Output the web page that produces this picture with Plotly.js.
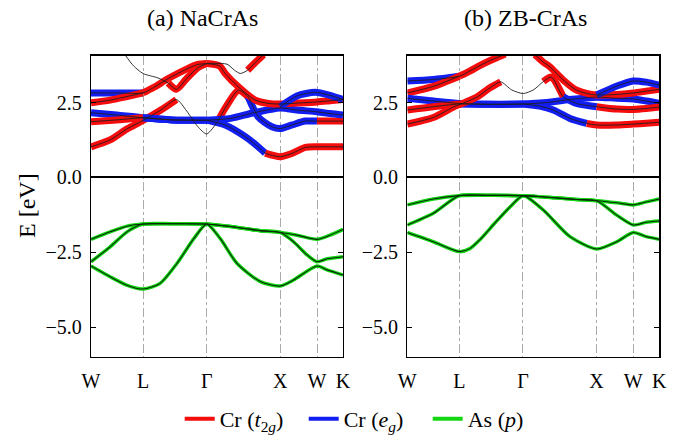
<!DOCTYPE html>
<html><head><meta charset="utf-8">
<script src="https://cdn.plot.ly/plotly-3.0.1.min.js"></script>
<style>html,body{margin:0;padding:0;background:#fff}#chart{width:690px;height:442px}</style>
</head><body><div id="chart"></div>
<script>
// High-symmetry path positions (2pi/a units) and labels
const KPOS = [0, 0.7071, 1.5731, 2.5731, 3.0731, 3.4267];
const KLAB = ['W', 'L', 'Γ', 'X', 'W', 'K'];

// ---------- (a) NaCrAs : conduction bands (k, E, character of each segment) ----------
const NA1_K = [0, 0.26, 0.49, 0.707, 0.95, 1.161, 1.30, 1.45, 1.573, 1.733, 1.824, 2.005, 2.137, 2.274, 2.46, 2.573, 2.733, 2.914, 3.073, 3.25, 3.427];
const NA1_E = [1.02, 1.25, 1.62, 1.90, 2.25, 2.60, 2.22, 1.70, 1.45, 1.91, 2.31, 2.91, 2.69, 2.02, 1.69, 1.63, 1.75, 1.88, 1.88, 1.88, 1.88];
const NA1_C = 'tttttnnnnttteeeeeettt';
const NA2_K = [0, 0.35, 0.707, 1.1, 1.573];
const NA2_E = [2.16, 2.08, 1.99, 1.92, 1.91];
const NA2_C = 'eeee';
const NA3_K = [0, 0.35, 0.707, 1.1, 1.573];
const NA3_E = [1.86, 1.92, 1.99, 1.92, 1.91];
const NA3_C = 'ttee';
const NA4_K = [1.573, 1.9, 2.2, 2.573, 2.8, 3.073, 3.25, 3.427];
const NA4_E = [1.91, 1.97, 2.15, 2.32, 2.25, 2.19, 2.13, 2.08];
const NA4_C = 'eeeeeee';
const NA5_K = [1.573, 1.824, 2.097, 2.274, 2.369, 2.573, 2.733, 2.914, 3.073, 3.25, 3.427];
const NA5_E = [1.91, 1.75, 1.36, 1.02, 0.81, 0.69, 0.80, 1.00, 1.02, 1.02, 1.02];
const NA5_C = 'eeeettttttt';
const NA6_K = [0, 0.35, 0.707, 0.85, 1.05, 1.32, 1.45, 1.573];
const NA6_E = [2.82, 2.82, 2.82, 3.00, 3.30, 3.64, 3.77, 3.80];
const NA6_C = 'eettttt';
const NA7_K = [0, 0.26, 0.49, 0.707];
const NA7_E = [2.49, 2.58, 2.70, 2.82];
const NA7_C = 'ttt';
const NA8_K = [0.46, 0.58, 0.707, 0.912, 1.05, 1.161, 1.3, 1.45, 1.573];
const NA8_E = [4.10, 3.72, 3.47, 3.32, 3.15, 2.94, 3.30, 3.66, 3.80];
const NA8_C = 'nnnnttttt';
const NA9_K = [1.573, 1.75, 1.824, 2.005, 2.233, 2.414, 2.573, 2.8, 3.073, 3.25, 3.427];
const NA9_E = [3.80, 3.72, 3.47, 3.02, 2.58, 2.47, 2.45, 2.48, 2.52, 2.56, 2.60];
const NA9_C = 'tttttttttt';
const NA10_K = [1.573, 1.85, 1.95, 2.03, 2.13, 2.24, 2.346];
const NA10_E = [3.80, 3.78, 3.58, 3.47, 3.58, 3.85, 4.10];
const NA10_C = 'nnnnttt';
const NA11_K = [2.573, 2.8, 3.05, 3.25, 3.427];
const NA11_E = [2.36, 2.72, 2.84, 2.74, 2.60];
const NA11_C = 'eeee';
// (a) NaCrAs : valence bands (As p)
const NAV1_K = [0, 0.26, 0.49, 0.707, 1.1, 1.573, 2.07, 2.3, 2.573, 2.8, 3.073, 3.25, 3.427];
const NAV1_E = [-2.07, -1.82, -1.63, -1.56, -1.55, -1.56, -1.70, -1.78, -1.84, -1.93, -2.07, -1.93, -1.74];
const NAV2_K = [0, 0.26, 0.49, 0.707, 1.1, 1.573, 2.07, 2.3, 2.573, 2.754, 2.937, 3.073, 3.21, 3.427];
const NAV2_E = [-2.82, -2.32, -1.82, -1.56, -1.55, -1.56, -1.70, -1.78, -1.84, -2.15, -2.59, -2.82, -2.72, -2.65];
const NAV3_K = [0, 0.26, 0.486, 0.707, 0.94, 1.17, 1.40, 1.573, 1.756, 1.984, 2.301, 2.573, 2.754, 3.073, 3.21, 3.427];
const NAV3_E = [-2.96, -3.32, -3.60, -3.73, -3.54, -2.87, -2.04, -1.56, -2.04, -2.87, -3.48, -3.63, -3.43, -2.96, -3.09, -3.26];

// ---------- (b) ZB-CrAs : conduction bands ----------
const ZB1_K = [0, 0.354, 0.707, 0.85, 0.998, 1.15, 1.27, 1.33];
const ZB1_E = [3.22, 3.27, 3.38, 3.55, 3.75, 3.93, 4.05, 4.12];
const ZB1_C = 'eettttt';
const ZB2_K = [0, 0.354, 0.707];
const ZB2_E = [2.82, 3.04, 3.38];
const ZB2_C = 'tt';
const ZB3_K = [0, 0.354, 0.707, 1.1, 1.577, 1.9, 2.2, 2.575, 2.85, 3.073, 3.25, 3.427];
const ZB3_E = [2.64, 2.55, 2.47, 2.44, 2.45, 2.50, 2.60, 2.68, 2.64, 2.62, 2.55, 2.47];
const ZB3_C = 'eeeeeeeeeee';
const ZB4_K = [0, 0.354, 0.707, 1.1, 1.577];
const ZB4_E = [2.25, 2.36, 2.45, 2.44, 2.45];
const ZB4_C = 'ttee';
const ZB5_K = [0, 0.354, 0.635, 0.80, 0.952, 1.13, 1.27, 1.42, 1.577, 1.72, 1.85, 1.96, 2.12, 2.30, 2.575, 2.85, 3.073, 3.25, 3.427];
const ZB5_E = [1.78, 2.00, 2.36, 2.52, 2.69, 3.00, 3.19, 2.92, 2.80, 2.93, 3.20, 3.35, 2.69, 2.47, 2.36, 2.28, 2.27, 2.30, 2.35];
const ZB5_C = 'ttttttnnnntteetttt';
const ZB6_K = [1.736, 1.849, 1.94, 2.121, 2.303, 2.484, 2.575, 2.85, 3.073, 3.25, 3.427];
const ZB6_E = [4.10, 3.85, 3.69, 3.25, 2.91, 2.78, 2.75, 2.77, 2.82, 2.88, 2.94];
const ZB6_C = 'tttttttttt';
const ZB7_K = [1.577, 1.80, 1.985, 2.212, 2.44, 2.575, 2.85, 3.073, 3.25, 3.427];
const ZB7_E = [2.45, 2.38, 2.25, 1.97, 1.80, 1.75, 1.75, 1.78, 1.81, 1.84];
const ZB7_C = 'eeeettttt';
const ZB8_K = [2.575, 2.85, 3.073, 3.25, 3.427];
const ZB8_E = [2.75, 3.05, 3.22, 3.18, 3.08];
const ZB8_C = 'eeee';
// (b) ZB-CrAs : valence bands
const ZBV1_K = [0, 0.354, 0.707, 1.1, 1.577, 2.0, 2.3, 2.575, 2.85, 3.073, 3.25, 3.427];
const ZBV1_E = [-0.92, -0.72, -0.61, -0.60, -0.61, -0.68, -0.74, -0.78, -0.85, -0.92, -0.82, -0.72];
const ZBV2_K = [0, 0.354, 0.707, 1.1, 1.577, 2.0, 2.3, 2.575, 2.847, 3.073, 3.25, 3.427];
const ZBV2_E = [-1.59, -1.20, -0.61, -0.60, -0.61, -0.68, -0.74, -0.78, -1.26, -1.59, -1.50, -1.46];
const ZBV3_K = [0, 0.354, 0.707, 0.85, 1.0, 1.2, 1.4, 1.577, 1.849, 2.212, 2.575, 2.847, 3.073, 3.25, 3.427];
const ZBV3_E = [-1.84, -2.15, -2.48, -2.38, -2.05, -1.50, -0.98, -0.61, -1.09, -1.98, -2.39, -2.15, -1.84, -1.98, -2.07];

const LEGEND_NAMES = ['Cr (<i>t</i><sub>2<i>g</i></sub>)', 'Cr (<i>e</i><sub><i>g</i></sub>)', 'As (<i>p</i>)'];
const TITLES = ['(a) NaCrAs', '(b) ZB-CrAs'];

// ---------- styling ----------
const COL = { t: 'rgb(245,12,12)', e: 'rgb(18,30,240)', p: 'rgb(20,215,20)' };
const FAT = 7;
const FONT = 'Liberation Serif';

const naCond = [[NA1_K,NA1_E,NA1_C],[NA2_K,NA2_E,NA2_C],[NA3_K,NA3_E,NA3_C],[NA4_K,NA4_E,NA4_C],[NA5_K,NA5_E,NA5_C],[NA6_K,NA6_E,NA6_C],[NA7_K,NA7_E,NA7_C],[NA8_K,NA8_E,NA8_C],[NA9_K,NA9_E,NA9_C],[NA10_K,NA10_E,NA10_C],[NA11_K,NA11_E,NA11_C]];
const naVal = [[NAV1_K,NAV1_E],[NAV2_K,NAV2_E],[NAV3_K,NAV3_E]];
const zbCond = [[ZB1_K,ZB1_E,ZB1_C],[ZB2_K,ZB2_E,ZB2_C],[ZB3_K,ZB3_E,ZB3_C],[ZB4_K,ZB4_E,ZB4_C],[ZB5_K,ZB5_E,ZB5_C],[ZB6_K,ZB6_E,ZB6_C],[ZB7_K,ZB7_E,ZB7_C],[ZB8_K,ZB8_E,ZB8_C]];
const zbVal = [[ZBV1_K,ZBV1_E],[ZBV2_K,ZBV2_E],[ZBV3_K,ZBV3_E]];

const traces = [];
function line(k, e, color, width, xa, ya) {
  return { x: k, y: e, mode: 'lines', xaxis: xa, yaxis: ya, showlegend: false, hoverinfo: 'skip',
           line: { color: color, width: width, shape: 'spline', smoothing: 0.7 } };
}
function addPanel(cond, val, xa, ya) {
  for (const [k, e, c] of cond) {
    let i = 0;
    while (i < c.length) {
      const ch = c[i]; let j = i;
      while (j < c.length && c[j] === ch) j++;
      if (ch !== 'n') traces.push(line(k.slice(i, j + 1), e.slice(i, j + 1), COL[ch], FAT, xa, ya));
      i = j;
    }
  }
  for (const [k, e] of val) traces.push(line(k, e, COL.p, 3.5, xa, ya));
  for (const [k, e] of cond) traces.push(line(k, e, 'rgb(30,30,30)', 0.9, xa, ya));
  for (const [k, e] of val) traces.push(line(k, e, 'rgb(10,40,10)', 1.1, xa, ya));
}
addPanel(naCond, naVal, 'x', 'y');
addPanel(zbCond, zbVal, 'x2', 'y2');

['t', 'e', 'p'].forEach((ch, i) => traces.push({
  x: [null], y: [null], mode: 'lines', name: LEGEND_NAMES[i], showlegend: true,
  line: { color: COL[ch], width: 4 }, xaxis: 'x', yaxis: 'y'
}));

function xax(dom, anchor) {
  return { domain: dom, anchor: anchor, range: [0, KPOS[KPOS.length - 1]], tickvals: KPOS, ticktext: KLAB,
    ticks: '', showgrid: true, griddash: 'dashdot', gridcolor: 'rgb(150,150,150)', gridwidth: 0.8,
    showline: true, mirror: true, linecolor: 'black', linewidth: 1.3, zeroline: false,
    ticklabelstandoff: 6, tickfont: { family: FONT, size: 20, color: 'black' } };
}
function yax(anchor) {
  return { domain: [0.1923, 0.8744], anchor: anchor, range: [-6.0, 4.07], tickvals: [-5, -2.5, 0, 2.5],
    tickformat: '.1f', ticks: 'inside', ticklen: 5, tickcolor: 'black', showgrid: false,
    showline: true, mirror: 'ticks', linecolor: 'black', linewidth: 1.3,
    zeroline: true, zerolinecolor: 'black', zerolinewidth: 2,
    ticklabelstandoff: 4, tickfont: { family: FONT, size: 20, color: 'black' } };
}

const layout = {
  width: 690, height: 442, margin: { l: 0, r: 0, t: 0, b: 0 },
  font: { family: FONT, size: 20, color: 'black' },
  paper_bgcolor: 'white', plot_bgcolor: 'white',
  xaxis: xax([0.1319, 0.4971], 'y'), yaxis: yax('x'),
  xaxis2: xax([0.5903, 0.9555], 'y2'), yaxis2: yax('x2'),
  showlegend: true,
  legend: { orientation: 'h', x: 0.53, xanchor: 'center', y: 0.052, yanchor: 'middle',
            entrywidth: 79, entrywidthmode: 'pixels',
            font: { family: FONT, size: 22, color: 'black' }, bgcolor: 'rgba(0,0,0,0)' },
  annotations: [
    { text: TITLES[0], xref: 'paper', yref: 'paper', x: 0.2935, y: 0.960, xanchor: 'center', yanchor: 'middle', showarrow: false, font: { family: FONT, size: 24, color: 'black' } },
    { text: TITLES[1], xref: 'paper', yref: 'paper', x: 0.7615, y: 0.960, xanchor: 'center', yanchor: 'middle', showarrow: false, font: { family: FONT, size: 24, color: 'black' } },
    { text: 'E [eV]', xref: 'paper', yref: 'paper', x: 0.039, y: 0.536, xanchor: 'center', yanchor: 'middle', textangle: -90, showarrow: false, font: { family: FONT, size: 24, color: 'black' } }
  ]
};
Plotly.newPlot('chart', traces, layout, { displayModeBar: false, staticPlot: true });
</script></body></html>
